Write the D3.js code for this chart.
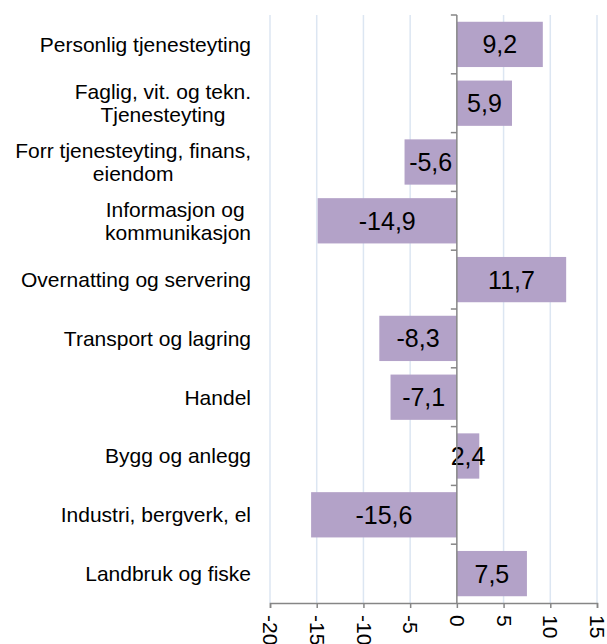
<!DOCTYPE html>
<html>
<head>
<meta charset="utf-8">
<script src="https://cdn.jsdelivr.net/npm/d3@7"></script>
<style>
  body { margin: 0; background: #fff; }
  text { font-family: "Liberation Sans", Arial, sans-serif; fill: #000; }
</style>
</head>
<body>
<svg id="chart" width="607" height="644"></svg>
<script>
// categories top to bottom, multi-line labels split on "|"
const categories = [
    "Personlig tjenesteyting",
    "Faglig, vit. og tekn.|Tjenesteyting",
    "Forr tjenesteyting, finans,|eiendom",
    "Informasjon og |kommunikasjon",
    "Overnatting og servering",
    "Transport og lagring",
    "Handel",
    "Bygg og anlegg",
    "Industri, bergverk, el",
    "Landbruk og fiske"
];
const values = [9.2, 5.9, -5.6, -14.9, 11.7, -8.3, -7.1, 2.4, -15.6, 7.5];
const xTicks = [-20, -15, -10, -5, 0, 5, 10, 15];

const svg = d3.select("#chart");

const x = d3.scaleLinear()
    .domain([-20, 15])
    .range([270, 597]);

const y = d3.scaleBand()
    .domain(categories)
    .range([15, 603])
    .paddingInner(0.23)
    .paddingOuter(0.115);

// Gridlines
svg.append("g")
    .selectAll("line")
    .data(xTicks.filter(d => d !== 0))
    .join("line")
    .attr("x1", d => x(d))
    .attr("x2", d => x(d))
    .attr("y1", 15)
    .attr("y2", 603)
    .attr("stroke", "#dce6f2")
    .attr("stroke-width", 1.5);

// Bars
svg.append("g")
    .selectAll("rect")
    .data(values)
    .join("rect")
    .attr("x", d => x(Math.min(0, d)))
    .attr("width", d => Math.abs(x(d) - x(0)))
    .attr("y", (d, i) => y(categories[i]))
    .attr("height", y.bandwidth())
    .attr("fill", "#b3a2c8");

// Value labels inside bars
svg.append("g")
    .selectAll("text")
    .data(values)
    .join("text")
    .attr("x", d => (x(d) + x(0)) / 2)
    .attr("y", (d, i) => y(categories[i]) + y.bandwidth() / 2)
    .attr("dy", "0.36em")
    .attr("text-anchor", "middle")
    .attr("font-size", "25px")
    .text(d => String(d).replace(".", ","));

// Vertical axis at zero with ticks between categories
const step = y.step();
const start = y.range()[0];
const yAxis = svg.append("g").attr("stroke", "#868686").attr("stroke-width", 1.5);
yAxis.append("line")
    .attr("x1", x(0)).attr("x2", x(0))
    .attr("y1", start).attr("y2", 603);
yAxis.selectAll("line.tick")
    .data(d3.range(categories.length))
    .join("line")
    .attr("class", "tick")
    .attr("x1", x(0) - 6).attr("x2", x(0))
    .attr("y1", i => start + i * step)
    .attr("y2", i => start + i * step);

// Bottom axis
const xAxis = svg.append("g")
    .attr("transform", "translate(0,603)")
    .call(d3.axisBottom(x).tickValues(xTicks).tickSize(5).tickFormat(d => String(d)));
xAxis.select(".domain").attr("stroke", "#868686").attr("stroke-width", 1.5);
xAxis.selectAll(".tick line").attr("stroke", "#868686").attr("stroke-width", 1.5);
xAxis.selectAll(".tick text")
    .attr("font-size", "21px")
    .attr("font-family", "'Liberation Sans', Arial, sans-serif")
    .attr("fill", "#000")
    .attr("text-anchor", "start")
    .attr("transform", "rotate(90)")
    .attr("x", 12)
    .attr("y", 0)
    .attr("dy", "0.35em");

// Category labels: lines centred on each other, block right-aligned
const labelRight = 251;
const lineHeight = 23;
categories.forEach((c, i) => {
    const lines = c.split("|");
    const cy = y(c) + y.bandwidth() / 2;
    const t = svg.append("text")
        .attr("font-size", "21px")
        .attr("text-anchor", "middle")
        .style("white-space", "pre");
    lines.forEach((ln, j) => {
        t.append("tspan")
            .attr("x", 0)
            .attr("y", cy + (j - (lines.length - 1) / 2) * lineHeight)
            .attr("dy", "0.35em")
            .text(ln);
    });
    const w = t.node().getBBox().width;
    t.attr("transform", `translate(${labelRight - w / 2},0)`);
});
</script>
</body>
</html>
